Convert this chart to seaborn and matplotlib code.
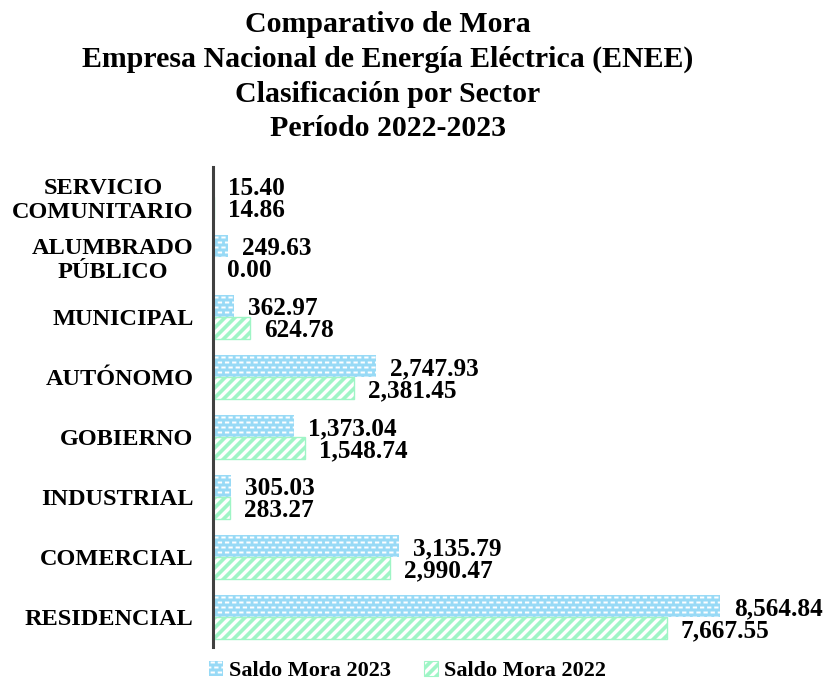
import numpy as np
import pandas as pd
import matplotlib
matplotlib.use("Agg")
import matplotlib.pyplot as plt
import matplotlib.hatch as mhatch
from matplotlib.path import Path
from matplotlib.patches import Patch
import seaborn as sns

# ---------------- data ----------------
categories = ["SERVICIO\nCOMUNITARIO", "ALUMBRADO\nPÚBLICO", "MUNICIPAL", "AUTÓNOMO",
              "GOBIERNO", "INDUSTRIAL", "COMERCIAL", "RESIDENCIAL"]
mora_2023 = [15.40, 249.63, 362.97, 2747.93, 1373.04, 305.03, 3135.79, 8564.84]
mora_2022 = [14.86, 0.00, 624.78, 2381.45, 1548.74, 283.27, 2990.47, 7667.55]
series_labels = ["Saldo Mora 2023", "Saldo Mora 2022"]
title_lines = ["Comparativo de Mora",
               "Empresa Nacional de Energía Eléctrica (ENEE)",
               "Clasificación por Sector",
               "Período 2022-2023"]

BLUE = "#98daf6"
GREEN = "#9ff5c6"
SPINE = "#404040"


# ---------------- custom hatch patterns ----------------
class DashedRowsHatch(mhatch.HatchPatternBase):
    """Staggered rows of short filled dashes (triggered by '.')."""
    def __init__(self, hatch, density):
        n = hatch.count('.')
        self.rows = 20 * n
        self.cols = 14 * n
        self.num_vertices = self.rows * (self.cols + 1) * 5 if n else 0

    def set_vertices_and_codes(self, vertices, codes):
        dx = 1.0 / self.cols
        dy = 1.0 / self.rows
        L = 0.58 * dx
        H = 0.018
        k = 0
        for r in range(self.rows):
            y0 = r * dy + 0.016
            off = 0.5 * dx if r % 2 else 0.0
            for c in range(-1, self.cols):
                x0 = c * dx + off
                vertices[k:k + 5] = [[x0, y0], [x0 + L, y0], [x0 + L, y0 + H],
                                     [x0, y0 + H], [x0, y0]]
                codes[k:k + 5] = [Path.MOVETO, Path.LINETO, Path.LINETO,
                                  Path.LINETO, Path.CLOSEPOLY]
                k += 5


class WideStripeHatch(mhatch.HatchPatternBase):
    """Thick filled north-east stripes (triggered by '/')."""
    def __init__(self, hatch, density):
        n = hatch.count('/')
        self.k = 10 * n
        self.num_vertices = 2 * self.k * 5 if n else 0

    def set_vertices_and_codes(self, vertices, codes):
        p = 1.0 / self.k
        w = 0.5 * p
        m = 0
        for i in range(-self.k, self.k):
            x0 = i * p
            vertices[m:m + 5] = [[x0, 0], [x0 + w, 0], [x0 + w + 1, 1],
                                 [x0 + 1, 1], [x0, 0]]
            codes[m:m + 5] = [Path.MOVETO, Path.LINETO, Path.LINETO,
                              Path.LINETO, Path.CLOSEPOLY]
            m += 5


mhatch._hatch_types[:] = [t for t in mhatch._hatch_types
                          if t not in (mhatch.SmallFilledCircles, mhatch.NorthEastHatch)]
mhatch._hatch_types.extend([DashedRowsHatch, WideStripeHatch])

# ---------------- style ----------------
sns.set_style("white")
plt.rcParams["font.family"] = ["Liberation Serif", "DejaVu Serif"]
plt.rcParams["font.weight"] = "bold"
plt.rcParams["text.color"] = "black"
plt.rcParams["ytick.color"] = "black"
plt.rcParams["ytick.labelcolor"] = "black"
plt.rcParams["hatch.linewidth"] = 0.1

df = pd.DataFrame({
    "Sector": categories * 2,
    "Saldo": mora_2023 + mora_2022,
    "Serie": [series_labels[0]] * len(categories) + [series_labels[1]] * len(categories),
})

fig = plt.figure(figsize=(8.24, 6.81), dpi=100)
ax = fig.add_axes([213 / 824, 1 - 647 / 681, (805 - 213) / 824, (647 - 167) / 681])

sns.barplot(data=df, y="Sector", x="Saldo", hue="Serie", orient="h",
            palette=[BLUE, GREEN], width=0.74, legend=False, ax=ax,
            order=categories, hue_order=series_labels)

# style bars
for bar in ax.containers[0]:
    bar.set_facecolor(BLUE)
    bar.set_edgecolor("white")
    bar.set_linewidth(0)
    bar.set_hatch(".")
for bar in ax.containers[1]:
    bar.set_facecolor("white")
    bar.set_edgecolor(GREEN)
    bar.set_linewidth(1.0)
    bar.set_hatch("/")

# value labels (baseline sits just above the bottom edge of each bar)
for cont, vals in zip(ax.containers, [mora_2023, mora_2022]):
    for bar, v in zip(cont, vals):
        ax.annotate(f"{v:,.2f}", (bar.get_width(), bar.get_y() + bar.get_height()),
                    xytext=(14, 2), textcoords="offset pixels", ha="left", va="baseline",
                    fontsize=18.2, fontweight="bold", color="black", annotation_clip=False)

ax.set_xlim(0, 10000)
ax.set_xlabel("")
ax.set_ylabel("")
ax.set_xticks([])
ax.tick_params(axis="y", length=0, pad=14)
for t in ax.get_yticklabels():
    t.set_fontsize(17.5)
    t.set_fontweight("bold")
    t.set_color("black")
    t.set_multialignment("center")
    t.set_linespacing(1.15)
for s in ["top", "right", "bottom"]:
    ax.spines[s].set_visible(False)
ax.spines["left"].set_color(SPINE)
ax.spines["left"].set_linewidth(2.2)

# title
for line, ypx in zip(title_lines, [32, 67, 102, 136]):
    fig.text(387.5 / 824, 1 - ypx / 681, line, ha="center", va="baseline",
             fontsize=21.5, fontweight="bold", color="black")

# legend
handles = [Patch(facecolor=BLUE, edgecolor="white", linewidth=0, hatch="."),
           Patch(facecolor="white", edgecolor=GREEN, linewidth=0.8, hatch="/")]
fig.legend(handles, series_labels, loc="center", bbox_to_anchor=(0.4945, 1 - 671 / 681),
           ncol=2, frameon=False, handlelength=0.63, handleheight=0.63,
           handletextpad=0.25, columnspacing=1.5, borderpad=0.0,
           prop={"weight": "bold", "size": 16})

fig.savefig("out.png", dpi=100)
